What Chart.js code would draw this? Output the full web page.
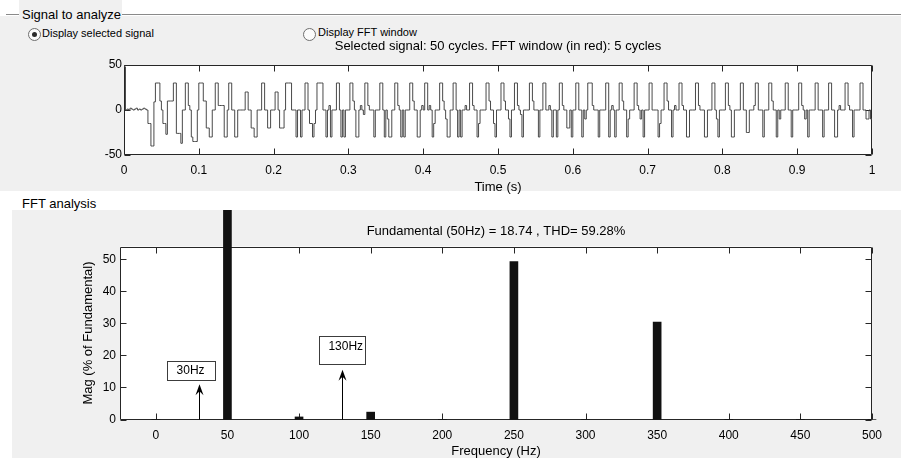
<!DOCTYPE html>
<html>
<head>
<meta charset="utf-8">
<script src="https://cdn.jsdelivr.net/npm/chart.js@4.4.1/dist/chart.umd.min.js"></script>
<style>
html,body{margin:0;padding:0;background:#fff;width:901px;height:463px;overflow:hidden;font-family:"Liberation Sans",Arial,Helvetica,sans-serif;color:#000;}
.abs{position:absolute;}
#topPanel{left:0;top:16px;width:901px;height:175px;background:#f0f0f0;}
#botPanel{left:12px;top:210px;width:889px;height:248px;background:#f0f0f0;}
#groupLine{left:6px;top:14px;width:895px;height:1px;background:#8a8a8a;}
#sigBox{left:19px;top:0;width:103px;height:16px;background:#f0f0f0;}
.lbl{font-size:13px;line-height:16px;white-space:nowrap;}
.rtxt{font-size:11px;line-height:13px;white-space:nowrap;}
.radio{width:11px;height:11px;border:1px solid #6f6f6f;border-radius:50%;background:#fbfbfb;box-sizing:content-box;}
.dot{width:5px;height:5px;border-radius:50%;background:#2b2b2b;position:absolute;left:3px;top:3px;}
canvas{position:absolute;}
</style>
</head>
<body>
<div id="topPanel" class="abs"></div>
<div id="botPanel" class="abs"></div>
<div id="groupLine" class="abs"></div>
<div id="sigBox" class="abs"></div>
<div class="abs lbl" style="left:22px;top:7px;">Signal to analyze</div>
<div class="abs radio" style="left:28px;top:28px;"><div class="dot"></div></div>
<div class="abs rtxt" style="left:42px;top:27px;">Display selected signal</div>
<div class="abs radio" style="left:303px;top:28px;"></div>
<div class="abs rtxt" style="left:318px;top:26px;">Display FFT window</div>
<div class="abs lbl" style="left:22px;top:196px;">FFT analysis</div>
<canvas id="sig" width="901" height="195" style="left:0;top:0;width:901px;height:195px;"></canvas>
<canvas id="fft" width="889" height="253" style="left:12px;top:210px;width:889px;height:253px;"></canvas>
<script>
// ---------------- DATA ----------------
// Signal: one value per sample step (seconds)
const sampleStep = 0.002;
const signalValues = [
  48, 0, 1, 0, 2, 1, 0, 1, 2, 0,
  1, 0, 1, 2, 1, 0, -15, -15, -40, -40,
  9, 30, 30, 30, 10, 0, -15, -15, -27, 10,
  10, 10, 10, 30, 30, -26, -26, -26, -37, 0,
  0, 30, 30, 5, 0, -30, -35, -35, -35, 0,
  30, 30, 30, 10, 10, -20, -20, -30, -30, 0,
  0, 30, 30, 5, 5, 5, 5, -30, -30, 0,
  30, 30, 0, 0, -30, -30, 0, 0, 0, 0,
  0, 20, 20, 0, 0, -20, -20, -30, -30, 0,
  0, 0, 30, 30, 0, 0, -20, -20, 0, 0,
  0, 20, 20, 0, -20, -20, -20, 0, 30, 30,
  30, 30, 0, 0, 0, -30, 0, 0, -30, 0,
  0, 30, 30, 0, -15, -15, -30, -15, 0, 30,
  30, 30, 30, 0, 0, -30, 0, 5, -30, 0,
  0, 0, 30, 30, 0, -30, 0, -30, 0, 0,
  0, 30, 30, 10, 0, -30, -30, 0, 5, 0,
  -5, 30, 30, 5, 0, 0, 0, -30, 0, 0,
  0, 30, 30, 0, -30, 0, -10, -30, -30, 0,
  0, 30, 30, 5, 0, -30, 0, -30, 0, 0,
  0, 30, 30, 10, 0, 0, -30, -30, 0, 5,
  0, 30, 30, 0, 5, 0, -30, -15, 0, 0,
  0, 30, 30, 10, 0, -10, -30, -30, 0, 0,
  30, 30, 0, -30, 0, -30, 0, 0, 5, 0,
  0, 30, 30, 5, 0, 0, -30, -15, 0, 0,
  0, 0, 30, 30, 10, 0, 0, -15, -30, 0,
  0, 0, 30, 30, 10, 0, 0, -10, -30, 0,
  0, 30, 30, 5, 0, -5, -30, 0, 0, 0,
  0, 30, 30, 10, 0, 0, 0, -30, 0, 0,
  30, 30, 0, 0, 5, 0, -30, 0, 0, -30,
  0, 30, 30, 5, 0, 0, -20, -20, 0, -30,
  0, 0, 30, 30, 0, 0, -30, 0, -10, 0,
  30, 30, 30, 5, 0, 0, 0, -30, 0, 0,
  0, 0, 30, 30, -30, 0, 5, 0, -30, 0,
  0, 30, 30, 10, 0, 0, -30, -10, 0, 0,
  0, 30, 30, 5, 0, -10, 0, -30, 0, 0,
  0, 30, 30, 0, 0, 0, 0, -30, -15, 0,
  0, 30, 30, 10, 0, 0, -30, 0, 5, 0,
  0, 30, 30, 5, 0, 0, -30, -30, 0, 0,
  0, 0, 30, 30, 5, 0, 0, 0, -30, -30,
  0, 0, 0, 30, 30, 0, -10, -30, 0, 0,
  0, 0, 30, 30, 5, 0, -30, -30, 0, 0,
  0, 0, 30, 30, 0, 0, -25, -25, 0, 0,
  0, 5, 30, 30, 0, 0, 0, -30, 0, 0,
  0, 30, 30, 10, 0, 0, -30, 0, -10, 0,
  0, 0, 30, 30, 0, 0, -30, 0, 0, 0,
  0, 30, 30, 5, 0, -10, 0, -30, 0, 0,
  0, 0, 30, 30, 0, 0, 0, -30, 0, 0,
  0, 30, 30, 0, 0, -30, -30, 0, 5, 0,
  0, 0, 30, 30, 5, 0, 0, -30, 0, 0,
  0, 0, 30, 30, 0, 0, -10, -10, 0, -10
];
const signalTitle = 'Selected signal: 50 cycles. FFT window (in red): 5 cycles';

// FFT spectrum (% of fundamental)
const fftFreqs = [0, 50, 100, 150, 200, 250, 300, 350, 400, 450, 500];
const fftMags  = [0, 100, 0.8, 2.3, 0, 49.3, 0, 30.4, 0, 0, 0];
const fundamental = 18.74;
const thd = 59.28;

// Annotation arrows (frequency in Hz, arrow tip in %)
const markerFreqs  = [30, 130];
const markerTips   = [11.0, 15.5];
const markerLabels = ['30Hz', '130Hz'];

// ---------------- CHARTS ----------------
Chart.defaults.font.family = '"Liberation Sans", Arial, Helvetica, sans-serif';
Chart.defaults.color = '#000';

const framePlugin = {
  id: 'frame',
  beforeDraw(chart) {
    const a = chart.chartArea, c = chart.ctx;
    c.save(); c.fillStyle = '#fff';
    c.fillRect(a.left, a.top, a.right - a.left, a.bottom - a.top);
    c.restore();
  },
  beforeDatasetsDraw(chart, args, opts) {
    const { ctx, chartArea: a, scales } = chart;
    const L = Math.round(a.left) + 0.5, R = Math.round(a.right) - 0.5;
    const T = Math.round(a.top) + 0.5, B = Math.round(a.bottom) - 0.5;
    ctx.save();
    ctx.strokeStyle = opts.color || '#262626';
    ctx.lineWidth = 1;
    ctx.beginPath(); ctx.rect(L, T, R - L, B - T); ctx.stroke();
    const len = opts.tickLen || 6;
    ctx.beginPath();
    scales.x.ticks.forEach(t => {
      const px = Math.round(scales.x.getPixelForValue(t.value)) + 0.5;
      ctx.moveTo(px, B); ctx.lineTo(px, B - len);
      ctx.moveTo(px, T); ctx.lineTo(px, T + len);
    });
    scales.y.ticks.forEach(t => {
      const py = Math.round(scales.y.getPixelForValue(t.value)) + 0.5;
      ctx.moveTo(L, py); ctx.lineTo(L + len, py);
      ctx.moveTo(R, py); ctx.lineTo(R - len, py);
    });
    ctx.stroke();
    ctx.restore();
  }
};

const markerPlugin = {
  id: 'markers',
  afterDatasetsDraw(chart, args, opts) {
    const { ctx, scales: { x, y } } = chart;
    ctx.save();
    markerFreqs.forEach((f, i) => {
      const box = opts.boxes[i];
      const px = Math.round(x.getPixelForValue(f)) + 0.5;
      const y0 = y.getPixelForValue(0);
      const yt = y.getPixelForValue(markerTips[i]);
      ctx.strokeStyle = '#000'; ctx.lineWidth = 1;
      ctx.beginPath(); ctx.moveTo(px, y0); ctx.lineTo(px, yt + 4); ctx.stroke();
      ctx.fillStyle = '#000';
      ctx.beginPath();
      ctx.moveTo(px, yt);
      ctx.lineTo(px + 4, yt + 11);
      ctx.lineTo(px, yt + 7);
      ctx.lineTo(px - 4, yt + 11);
      ctx.closePath(); ctx.fill();
      const bx0 = Math.round(x.getPixelForValue(box.x0)) + 0.5;
      const bx1 = Math.round(x.getPixelForValue(box.x1)) + 0.5;
      const by0 = Math.round(y.getPixelForValue(box.y1)) + 0.5;
      const by1 = Math.round(y.getPixelForValue(box.y0)) + 0.5;
      ctx.fillStyle = '#fff';
      ctx.fillRect(bx0, by0, bx1 - bx0, by1 - by0);
      ctx.strokeStyle = '#3c3c3c';
      ctx.strokeRect(bx0, by0, bx1 - bx0, by1 - by0);
      ctx.save();
      ctx.beginPath(); ctx.rect(bx0, by0, bx1 - bx0, by1 - by0); ctx.clip();
      ctx.fillStyle = '#000';
      ctx.font = '12px "Liberation Sans", Arial, sans-serif';
      ctx.textBaseline = 'middle';
      ctx.textAlign = box.align;
      ctx.fillText(markerLabels[i], x.getPixelForValue(box.tx), y.getPixelForValue(box.ty));
      ctx.restore();
    });
    ctx.restore();
  }
};

// --- signal chart ---
const sigPoints = signalValues.map((v, i) => ({ x: +(i * sampleStep).toFixed(4), y: v }));
sigPoints.push({ x: 1, y: signalValues[signalValues.length - 1] });

new Chart(document.getElementById('sig'), {
  type: 'line',
  data: { datasets: [{ data: sigPoints, borderColor: '#4a4a4a', borderWidth: 1, pointRadius: 0, stepped: true, fill: false }] },
  options: {
    responsive: false, animation: false, devicePixelRatio: 1,
    layout: { padding: { left: 0, right: 29, top: 39, bottom: 0 } },
    plugins: {
      legend: { display: false }, tooltip: { enabled: false },
      title: { display: true, text: signalTitle, fullSize: false, color: '#000',
               font: { size: 13, weight: 'normal' }, padding: { top: 0, bottom: 10.4 } },
      frame: { tickLen: 6 }
    },
    scales: {
      x: { type: 'linear', min: 0, max: 1,
           afterFit(s) { s.height = 40; },
           grid: { display: false, drawTicks: false }, border: { display: false },
           ticks: { stepSize: 0.1, padding: 8, font: { size: 12 }, maxRotation: 0, autoSkip: false,
                    callback: v => String(Math.round(v * 10) / 10) },
           title: { display: true, text: 'Time (s)', font: { size: 13 }, padding: { top: 0, bottom: 0 } } },
      y: { min: -50, max: 50,
           afterFit(s) { s.width = 124; },
           grid: { display: false, drawTicks: false }, border: { display: false },
           ticks: { stepSize: 50, padding: 2, font: { size: 12 } } }
    }
  },
  plugins: [framePlugin]
});

// --- FFT chart ---
new Chart(document.getElementById('fft'), {
  type: 'bar',
  data: { datasets: [{ data: fftFreqs.map((f, i) => ({ x: f, y: fftMags[i] })),
                       backgroundColor: '#111', borderWidth: 0, barThickness: 8, clip: false }] },
  options: {
    responsive: false, animation: false, devicePixelRatio: 1,
    layout: { padding: { left: 0, right: 29, top: 13.2, bottom: 4.2 } },
    plugins: {
      legend: { display: false }, tooltip: { enabled: false },
      title: { display: true, fullSize: false, color: '#000',
               text: 'Fundamental (50Hz) = ' + fundamental.toFixed(2) + ' , THD= ' + thd.toFixed(2) + '%',
               font: { size: 13, weight: 'normal' }, padding: { top: 0, bottom: 7.7 } },
      frame: { tickLen: 6 },
      markers: { boxes: [
        { x0: 7.5, x1: 41, y0: 12.3, y1: 18.2, tx: 24.3, ty: 15.2, align: 'center' },
        { x0: 113.8, x1: 145.7, y0: 17.3, y1: 26.1, tx: 120.5, ty: 22.7, align: 'left' }
      ] }
    },
    scales: {
      x: { type: 'linear', min: -25, max: 500, offset: false,
           afterFit(s) { s.height = 39.3; },
           grid: { display: false, drawTicks: false, offset: false }, border: { display: false },
           ticks: { stepSize: 50, padding: 8.5, font: { size: 12 }, maxRotation: 0, autoSkip: false, includeBounds: false },
           title: { display: true, text: 'Frequency (Hz)', font: { size: 13 }, padding: { top: 0, bottom: 0 } } },
      y: { min: 0, max: 54, beginAtZero: true,
           afterFit(s) { s.width = 108; },
           grid: { display: false, drawTicks: false }, border: { display: false },
           ticks: { stepSize: 10, padding: 4, font: { size: 12 }, includeBounds: false },
           title: { display: true, text: 'Mag (% of Fundamental)', font: { size: 13 }, padding: { top: 68.7, bottom: 0 } } }
    }
  },
  plugins: [framePlugin, markerPlugin]
});
</script>
</body>
</html>
